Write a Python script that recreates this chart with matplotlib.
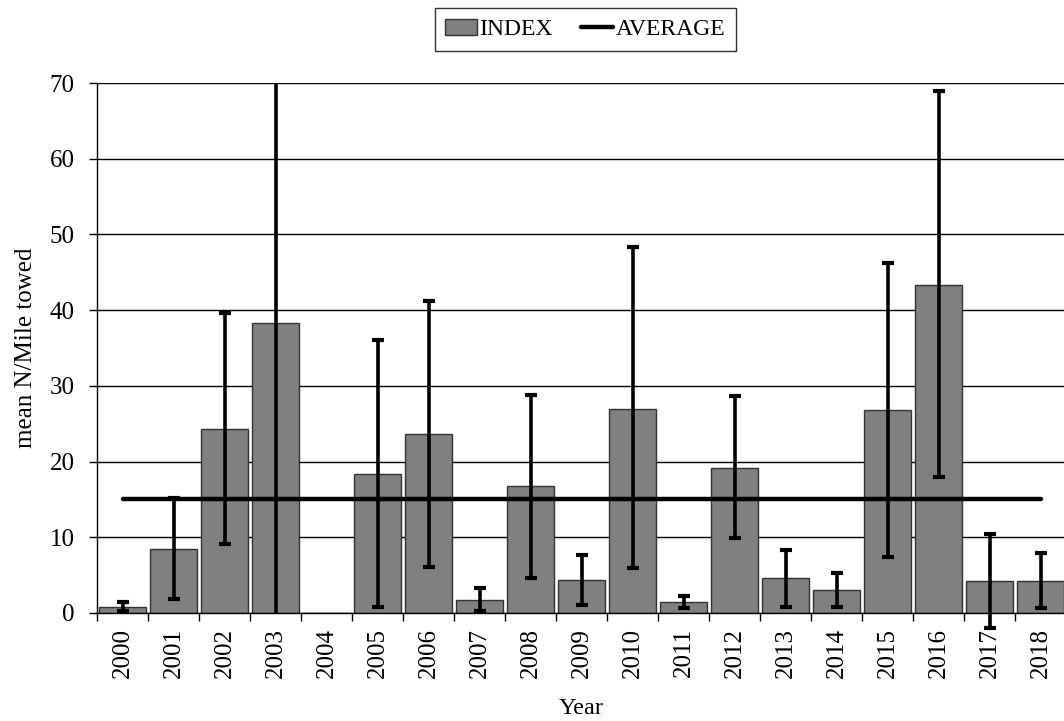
import numpy as np
import matplotlib
matplotlib.use("Agg")
from matplotlib import pyplot as plt
from matplotlib.transforms import Bbox, TransformedBbox

plt.rcParams['font.family'] = ['Liberation Serif', 'DejaVu Serif']

# letni indeks s spodnjo in zgornjo mejo
leta = ["2000", "2001", "2002", "2003", "2004", "2005", "2006", "2007", "2008", "2009",
        "2010", "2011", "2012", "2013", "2014", "2015", "2016", "2017", "2018"]
indeks = [0.8, 8.4, 24.3, 38.3, 0.0, 18.4, 23.6, 1.7, 16.8, 4.3,
          27.0, 1.4, 19.2, 4.6, 3.0, 26.8, 43.3, 4.2, 4.2]
spodaj = [0.3, 1.9, 9.1, 0.0, np.nan, 0.8, 6.1, 0.2, 4.6, 1.0,
          5.9, 0.6, 9.9, 0.8, 0.8, 7.4, 17.9, -2.0, 0.6]
zgoraj = [1.4, 15.2, 39.6, 80.0, np.nan, 36.0, 41.2, 3.3, 28.8, 7.7,
          48.3, 2.3, 28.6, 8.3, 5.3, 46.2, 68.9, 10.4, 7.9]
povprecje = 15.1

indeks = np.array(indeks)
spodaj = np.array(spodaj)
zgoraj = np.array(zgoraj)
x = np.arange(len(leta))

fig = plt.figure(figsize=(10.64, 7.21), dpi=100)
ax = fig.add_axes([0.0912, 0.1498, 0.9107, 0.735])

ax.set_axisbelow(True)
ax.yaxis.grid(True, color="black", linewidth=1.0)

bars = ax.bar(x, indeks, width=0.91, color="#808080", edgecolor="#333333",
              linewidth=1.0, label="INDEX", zorder=2)
avg_line, = ax.plot([x[0], x[-1]], [povprecje, povprecje], color="black", linewidth=3.2,
                    solid_capstyle="round", label="AVERAGE", zorder=3)

ok = ~np.isnan(spodaj)
eb = ax.errorbar(x[ok], indeks[ok], yerr=[indeks[ok] - spodaj[ok], zgoraj[ok] - indeks[ok]],
                 fmt="none", ecolor="black", elinewidth=2.6, capsize=4.5, capthick=3,
                 zorder=4)
# navzdol lahko gre pod os, navzgor se odreze na 70
okvir = TransformedBbox(Bbox([[-1, -10], [20, 70]]), ax.transData)
for art in list(eb.lines[1]) + list(eb.lines[2]):
    art.set_clip_box(okvir)
# spodnja kapica pri 2003 lezi na osi in je ne rišemo
spodnja = eb.lines[1][0]
xs, ys = spodnja.get_data()
brez = np.asarray(xs) != 3
spodnja.set_data(np.asarray(xs)[brez], np.asarray(ys)[brez])

ax.set_xlim(-0.5, len(leta) - 0.5)
ax.set_ylim(0, 70)
ax.set_yticks(np.arange(0, 71, 10))
ax.set_xticks(x)
ax.set_xticklabels(leta, rotation=90)
ax.set_xticks(np.arange(-0.5, len(leta), 1.0), minor=True)
ax.tick_params(axis="x", which="major", length=0, pad=11, labelsize=18)
ax.tick_params(axis="x", which="minor", length=6, width=1, direction="out")
ax.tick_params(axis="y", length=6, width=1, direction="out", labelsize=18, pad=10)

for s in ["top", "right"]:
    ax.spines[s].set_visible(False)
ax.spines["left"].set_linewidth(1.0)
ax.spines["bottom"].set_linewidth(1.0)

ax.set_ylabel("mean N/Mile towed", fontsize=18, labelpad=9)
ax.set_xlabel("Year", fontsize=17.5, labelpad=14)

leg = fig.legend(handles=[bars, avg_line], labels=["INDEX", "AVERAGE"],
                 loc="upper center", bbox_to_anchor=(0.55, 0.989), borderaxespad=0,
                 ncol=2, fontsize=17, frameon=True, fancybox=False, edgecolor="black",
                 handlelength=1.35, handletextpad=0.1, columnspacing=1.2, borderpad=0.45)
leg.get_frame().set_linewidth(1.0)

fig.savefig("out.png", dpi=100)
